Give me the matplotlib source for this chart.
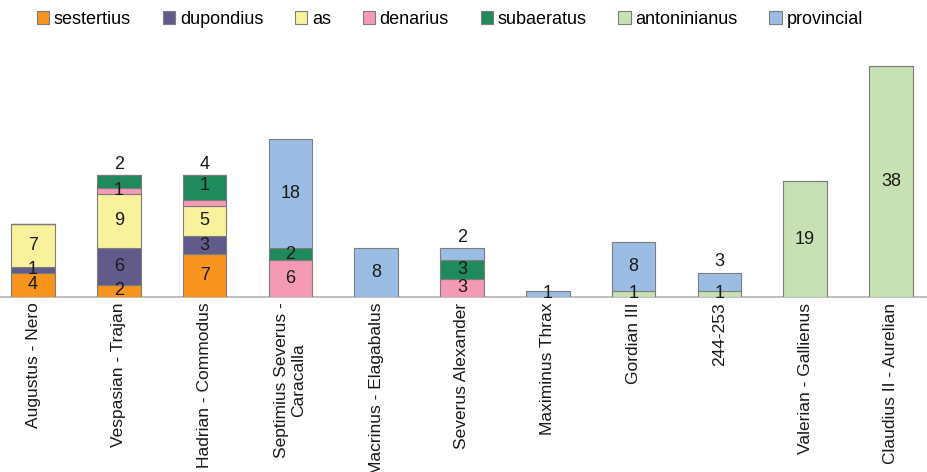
import numpy as np
import matplotlib
matplotlib.use("Agg")
import matplotlib.pyplot as plt

plt.rcParams['font.family'] = ['Liberation Sans', 'DejaVu Sans']

periods = [
    "Augustus - Nero",
    "Vespasian - Trajan",
    "Hadrian - Commodus",
    "Septimius Severus -\nCaracalla",
    "Macrinus - Elagabalus",
    "Severus Alexander",
    "Maximinus Thrax",
    "Gordian III",
    "244-253",
    "Valerian - Gallienus",
    "Claudius II - Aurelian",
]

denominations = ["sestertius", "dupondius", "as", "denarius",
                 "subaeratus", "antoninianus", "provincial"]

sestertius = [4, 2, 7, 0, 0, 0, 0, 0, 0, 0, 0]
dupondius = [1, 6, 3, 0, 0, 0, 0, 0, 0, 0, 0]
as_coins = [7, 9, 5, 0, 0, 0, 0, 0, 0, 0, 0]
denarius = [0, 1, 1, 6, 0, 3, 0, 0, 0, 0, 0]
subaeratus = [0, 2, 4, 2, 0, 3, 0, 0, 0, 0, 0]
antoninianus = [0, 0, 0, 0, 0, 0, 0, 1, 1, 19, 38]
provincial = [0, 0, 0, 18, 8, 2, 1, 8, 3, 0, 0]

colors = ["#f7941e", "#615b8c", "#f9f29c", "#f49ab5",
          "#1f8a5c", "#c7e1b5", "#9bbde3"]

# labels that sit above the bar instead of inside the segment
labels_above = {(1, "subaeratus"), (2, "subaeratus"),
                (5, "provincial"), (8, "provincial")}
# label drawn higher than its segment in the original
label_y_override = {(2, "denarius"): 18.4}
# segments in the original with no label of their own
no_label = set()

series = [sestertius, dupondius, as_coins, denarius,
          subaeratus, antoninianus, provincial]

fig = plt.figure(figsize=(9.27, 4.72), dpi=100)
ax = fig.add_axes([0.0, 0.3708, 1.0, 0.5153])

x = np.arange(len(periods))
bottom = np.zeros(len(periods))
for name, vals, col in zip(denominations, series, colors):
    vals = np.array(vals, dtype=float)
    ax.bar(x, vals, width=0.51, bottom=bottom, color=col,
           edgecolor="#7d7d7d", linewidth=0.8, label=name, zorder=2)
    for i, v in enumerate(vals):
        if v <= 0 or (i, name) in no_label:
            continue
        if (i, name) in labels_above:
            ax.annotate(f"{int(v)}", (x[i], bottom[i] + v), xytext=(0, 2),
                        textcoords="offset points", ha="center", va="bottom",
                        fontsize=13, color="#1a1a1a", zorder=3)
        else:
            y = label_y_override.get((i, name), bottom[i] + v / 2)
            ax.text(x[i], y, f"{int(v)}", ha="center", va="center",
                    fontsize=13, color="#1a1a1a", zorder=3)
    bottom += vals

ax.set_xlim(-0.385, 10.42)
ax.set_ylim(0, 40)
ax.set_xticks(x)
ax.set_xticklabels(periods, rotation=90, fontsize=12.5, color="#1a1a1a",
                   multialignment="center")
ax.tick_params(axis="x", length=0, pad=4)
ax.set_yticks([])
for s in ["top", "right", "left"]:
    ax.spines[s].set_visible(False)
ax.spines["bottom"].set_color("#b4b4b4")
ax.spines["bottom"].set_linewidth(1.2)
ax.spines["bottom"].set_zorder(1)

fig.legend(loc="upper left", bbox_to_anchor=(0.028, 1.0), ncol=7,
           frameon=False, fontsize=13, handlelength=0.7, handleheight=0.7,
           handletextpad=0.25, columnspacing=1.75, borderaxespad=0.2)

fig.savefig("out.png", dpi=100, facecolor="white")
